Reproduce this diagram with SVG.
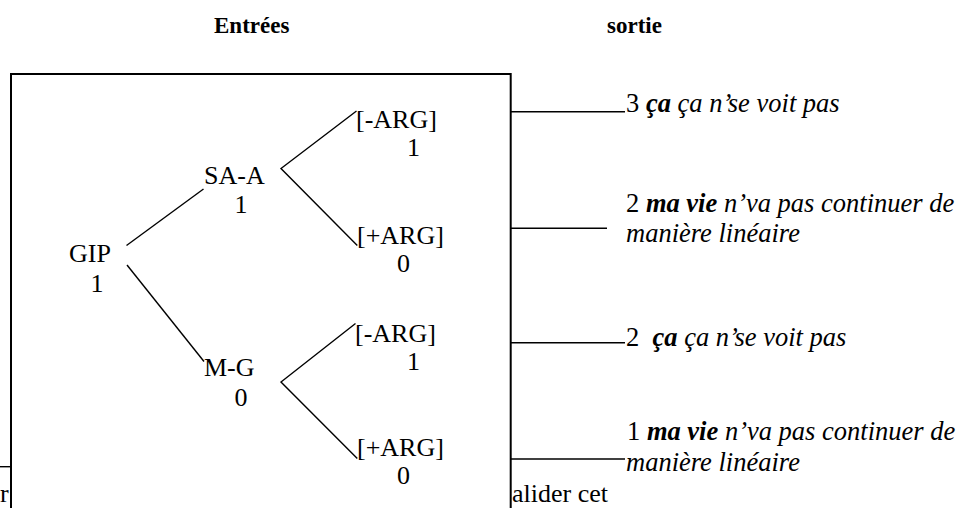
<svg xmlns="http://www.w3.org/2000/svg" width="962" height="508" viewBox="0 0 962 508" font-family="'Liberation Serif', 'Times New Roman', 'DejaVu Serif', serif">
  <style>
    text { font-family: "Liberation Serif", "Times New Roman", "DejaVu Serif", serif; }
    .t { font-size: 26px; fill: #000; }
    .o { font-size: 26.5px; }
    .h { font-size: 23px; font-weight: bold; fill: #000; }
    .it { font-style: italic; }
    .bi { font-style: italic; font-weight: bold; }
    .ln { stroke: #000; stroke-width: 1.4; fill: none; }
    .box { stroke: #000; stroke-width: 2; fill: #fff; }
  </style>
  <rect width="962" height="508" fill="#fff"/>

  <!-- background paragraph text partly hidden by the box -->
  <g id="background-text">
    <text class="t" x="0" y="502">r</text>
    <text class="t" x="512" y="502">alider cet</text>
    <line class="ln" x1="0" y1="466.7" x2="11" y2="466.7" stroke-width="1.6"/>
  </g>

  <!-- headers -->
  <g id="headers">
    <text class="h" x="214" y="33">Entrées</text>
    <text class="h" x="607" y="33">sortie</text>
  </g>

  <!-- frame -->
  <rect id="frame" class="box" x="11" y="74" width="499.7" height="460"/>

  <!-- connectors -->
  <g id="connectors">
    <line class="ln" x1="126.5" y1="245.5" x2="203.5" y2="189"/>
    <line class="ln" x1="127" y1="265" x2="204" y2="361.5"/>
    <polyline class="ln" points="356.5,111 281,168.5 357.3,245.5"/>
    <polyline class="ln" points="355.5,323.5 281,382 357.3,458.5"/>
    <line class="ln" x1="510.7" y1="111.7" x2="625" y2="111.7"/>
    <line class="ln" x1="510.7" y1="228.3" x2="607" y2="228.3"/>
    <line class="ln" x1="510.7" y1="342.7" x2="625" y2="342.7"/>
    <line class="ln" x1="510.7" y1="459" x2="625" y2="459"/>
  </g>

  <!-- tree nodes -->
  <g id="node-gip">
    <text class="t" x="69" y="261.5">GIP</text>
    <text class="t" x="90.5" y="292">1</text>
  </g>
  <g id="node-saa">
    <text class="t" x="204" y="184.3">SA-A</text>
    <text class="t" x="234.4" y="213.3">1</text>
  </g>
  <g id="node-mg">
    <text class="t" x="204" y="376">M-G</text>
    <text class="t" x="234.4" y="406">0</text>
  </g>
  <g id="node-saa-minus">
    <text class="t" x="356" y="128.3">[-ARG]</text>
    <text class="t" x="407" y="156">1</text>
  </g>
  <g id="node-saa-plus">
    <text class="t" x="357" y="244.3">[+ARG]</text>
    <text class="t" x="397" y="272">0</text>
  </g>
  <g id="node-mg-minus">
    <text class="t" x="355" y="341.7">[-ARG]</text>
    <text class="t" x="407" y="370">1</text>
  </g>
  <g id="node-mg-plus">
    <text class="t" x="357" y="456">[+ARG]</text>
    <text class="t" x="397" y="484">0</text>
  </g>

  <!-- outputs -->
  <g id="out-1">
    <text class="t o" x="626" y="111.5">3 <tspan class="bi">ça</tspan><tspan class="it"> ça n’se voit pas</tspan></text>
  </g>
  <g id="out-2">
    <text class="t o" x="626" y="211.7">2 <tspan class="bi">ma vie</tspan><tspan class="it"> n’va pas continuer de</tspan></text>
    <text class="t o it" x="626" y="241.7">manière linéaire</text>
  </g>
  <g id="out-3">
    <text class="t o" x="626" y="345.5" xml:space="preserve">2  <tspan class="bi">ça</tspan><tspan class="it"> ça n’se voit pas</tspan></text>
  </g>
  <g id="out-4">
    <text class="t o" x="627" y="440">1 <tspan class="bi">ma vie</tspan><tspan class="it"> n’va pas continuer de</tspan></text>
    <text class="t o it" x="626" y="471">manière linéaire</text>
  </g>
</svg>
